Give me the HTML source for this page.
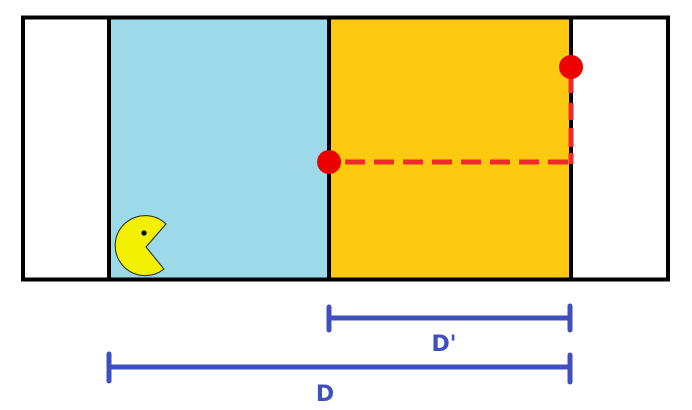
<!DOCTYPE html>
<html><head><meta charset="utf-8"><style>html,body{margin:0;padding:0;background:#fff}svg{display:block}</style></head>
<body>
<svg width="692" height="410" viewBox="0 0 692 410" xmlns="http://www.w3.org/2000/svg">
  <rect x="109" y="17" width="220" height="263" fill="#9cd9e9"/>
  <rect x="329" y="17" width="242" height="263" fill="#fec90e"/>
  <rect x="23" y="17.5" width="645" height="262" fill="none" stroke="#000" stroke-width="4"/>
  <line x1="109" y1="17" x2="109" y2="280" stroke="#000" stroke-width="4"/>
  <line x1="329" y1="17" x2="329" y2="280" stroke="#000" stroke-width="4"/>
  <line x1="571" y1="17" x2="571" y2="280" stroke="#000" stroke-width="4"/>
  <path d="M345 162 H573" fill="none" stroke="#ee2a2a" stroke-width="5" stroke-dasharray="20 9"/>
  <path d="M571 164 V67" fill="none" stroke="#ee2a2a" stroke-width="5" stroke-dasharray="11 6 19 8 17 10 30"/>
  <circle cx="329" cy="162" r="12" fill="#ee0000"/>
  <circle cx="571" cy="67" r="12" fill="#ee0000"/>
  <g>
    <path d="M146 247 L166 224 A30 30 0 1 0 164 269 Z" fill="#f2ef00" stroke="#222" stroke-width="1"/>
    <circle cx="144" cy="233" r="2.6" fill="#000"/>
  </g>
  <g stroke="#3f4fbf" stroke-width="5" stroke-linecap="round">
    <line x1="329" y1="318" x2="570" y2="318"/>
    <line x1="329" y1="307" x2="329" y2="330"/>
    <line x1="570" y1="306" x2="570" y2="330"/>
  </g>
  <g stroke="#3f4fbf" stroke-width="5" stroke-linecap="round">
    <line x1="109" y1="367" x2="570" y2="367"/>
    <line x1="109" y1="354" x2="109" y2="381"/>
    <line x1="570" y1="355" x2="570" y2="382"/>
  </g>
  <text x="444" y="351" text-anchor="middle" font-family="DejaVu Sans, Liberation Sans, sans-serif" font-weight="bold" font-size="22" fill="#3f4fbf">D'</text>
  <text x="325" y="401" text-anchor="middle" font-family="DejaVu Sans, Liberation Sans, sans-serif" font-weight="bold" font-size="22" fill="#3f4fbf">D</text>
</svg>
</body></html>
